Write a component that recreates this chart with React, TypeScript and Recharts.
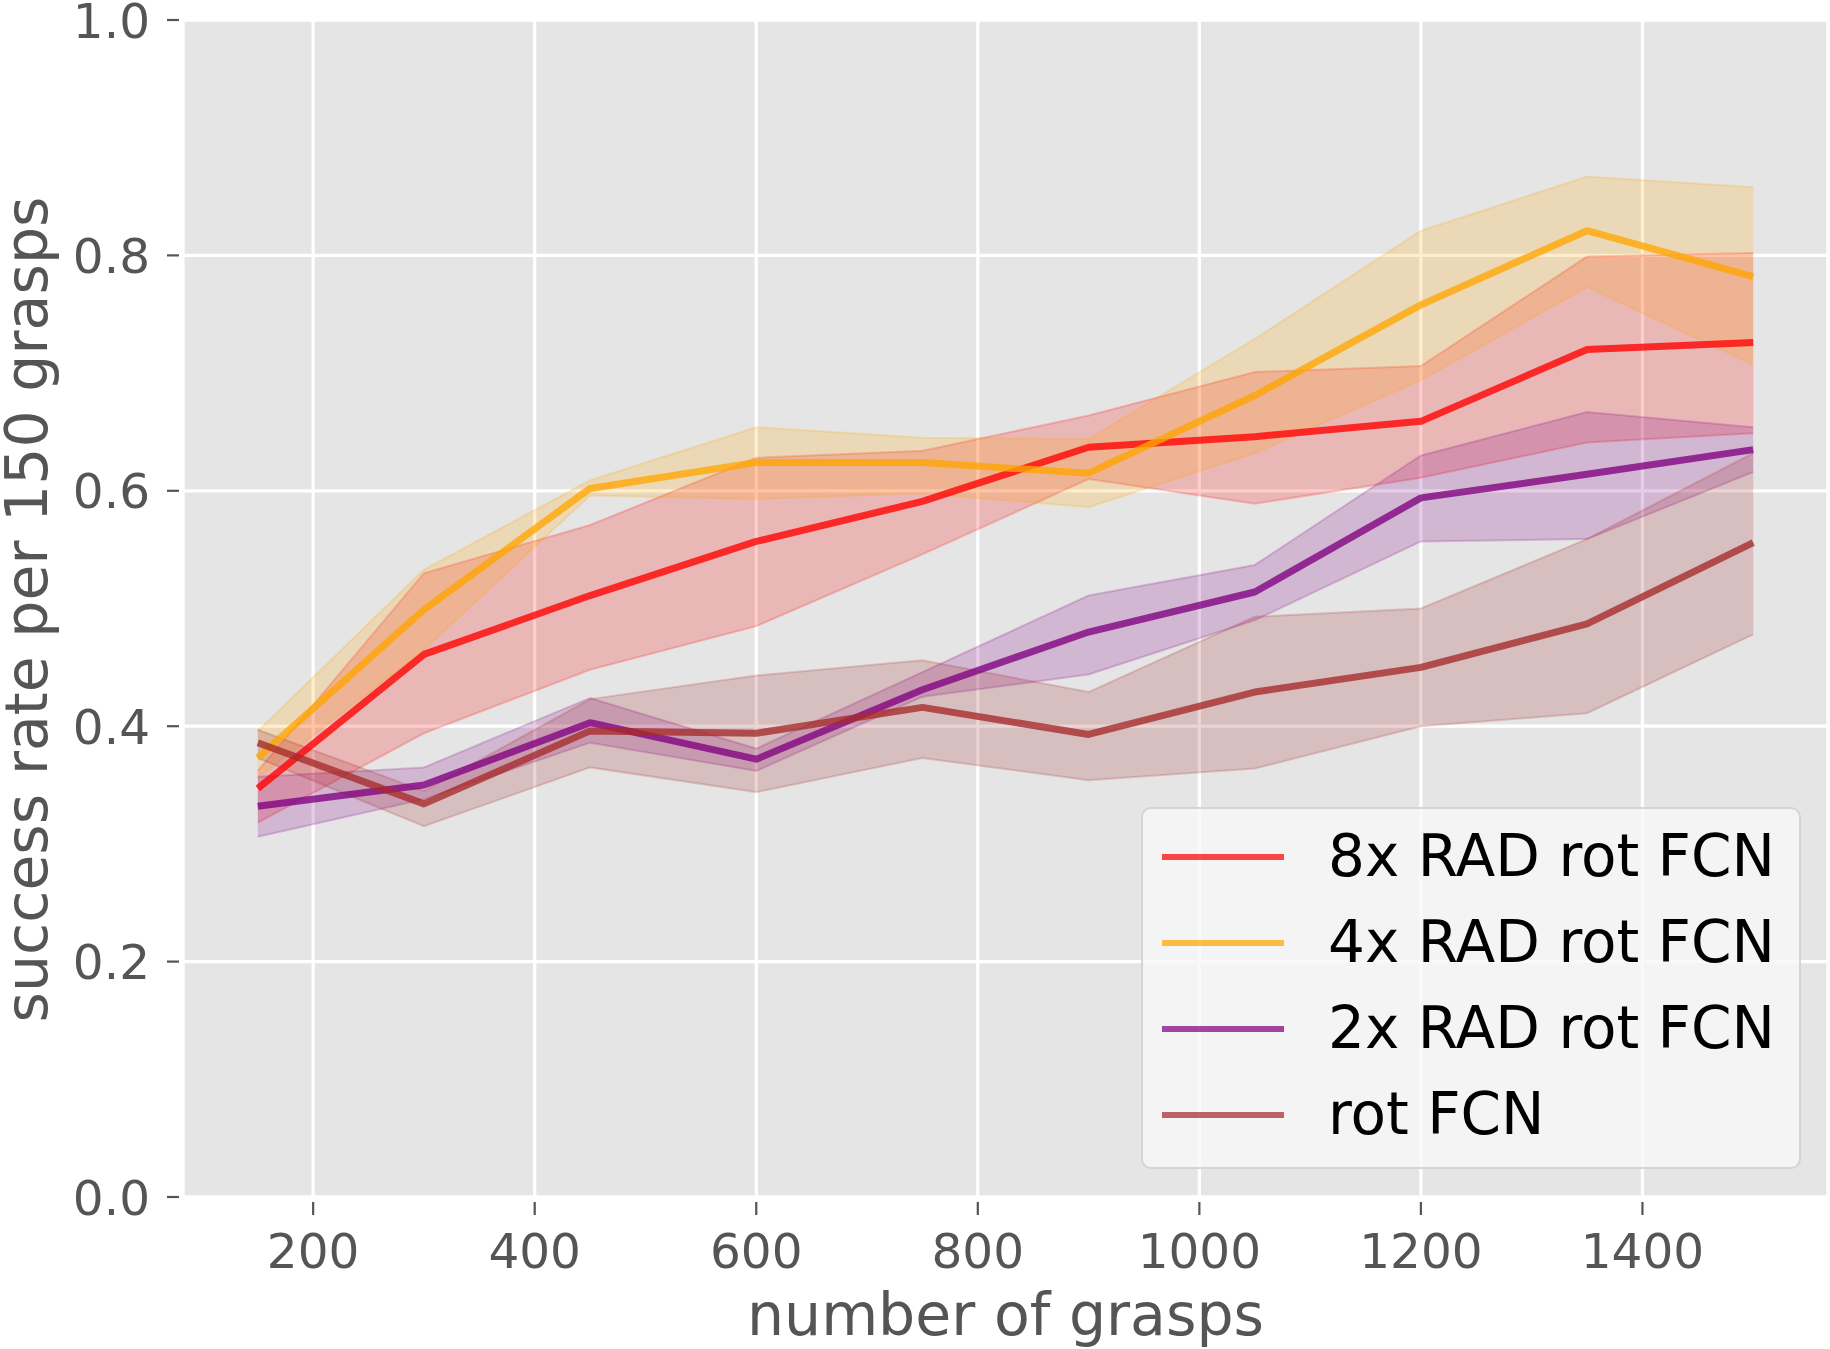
import React from "react";
import {
  ComposedChart,
  Area,
  Line,
  XAxis,
  YAxis,
  CartesianGrid,
  Legend,
} from "recharts";

if (typeof document !== "undefined") document.body.style.margin = "0";

// number of grasps at which each evaluation was run
const grasps = [150, 300, 450, 600, 750, 900, 1050, 1200, 1350, 1500];

// mean success rate and shaded band (low / high) per method
const rad8Mean = [0.347, 0.461, 0.511, 0.557, 0.591, 0.637, 0.646, 0.659, 0.72, 0.726];
const rad8Low = [0.318, 0.394, 0.448, 0.485, 0.546, 0.61, 0.589, 0.611, 0.641, 0.649];
const rad8High = [0.362, 0.53, 0.571, 0.628, 0.634, 0.664, 0.701, 0.706, 0.799, 0.802];

const rad4Mean = [0.373, 0.499, 0.602, 0.624, 0.624, 0.615, 0.681, 0.758, 0.821, 0.782];
const rad4Low = [0.356, 0.465, 0.596, 0.593, 0.598, 0.586, 0.632, 0.694, 0.773, 0.707];
const rad4High = [0.396, 0.533, 0.609, 0.654, 0.645, 0.644, 0.729, 0.821, 0.867, 0.858];

const rad2Mean = [0.332, 0.35, 0.403, 0.372, 0.431, 0.48, 0.514, 0.594, 0.614, 0.635];
const rad2Low = [0.306, 0.338, 0.386, 0.362, 0.425, 0.444, 0.49, 0.557, 0.559, 0.616];
const rad2High = [0.357, 0.365, 0.424, 0.381, 0.446, 0.511, 0.537, 0.63, 0.667, 0.654];

const rotMean = [0.386, 0.334, 0.396, 0.394, 0.416, 0.393, 0.429, 0.45, 0.487, 0.556];
const rotLow = [0.373, 0.315, 0.365, 0.344, 0.373, 0.354, 0.364, 0.4, 0.411, 0.478];
const rotHigh = [0.397, 0.345, 0.423, 0.443, 0.456, 0.429, 0.493, 0.5, 0.559, 0.632];

const xTicks = [200, 400, 600, 800, 1000, 1200, 1400];
const yTicks = [0, 0.2, 0.4, 0.6, 0.8, 1.0];

const series = [
  { key: "rad8", name: "8x RAD rot FCN", color: "#ff0000", mean: rad8Mean, low: rad8Low, high: rad8High },
  { key: "rad4", name: "4x RAD rot FCN", color: "#ffa500", mean: rad4Mean, low: rad4Low, high: rad4High },
  { key: "rad2", name: "2x RAD rot FCN", color: "#800080", mean: rad2Mean, low: rad2Low, high: rad2High },
  { key: "rot", name: "rot FCN", color: "#a52a2a", mean: rotMean, low: rotLow, high: rotHigh },
];

const rows = grasps.map((g, i) => {
  const row: any = { grasps: g };
  series.forEach((s) => {
    row[s.key] = s.mean[i];
    row[s.key + "Band"] = [s.low[i], s.high[i]];
  });
  return row;
});

const FONT = "'DejaVu Sans', Verdana, sans-serif";
const TEXT_GRAY = "#555555";
const TICK_SIZE = 48.5;
const LABEL_SIZE = 58.5;

const XTick = ({ x, y, payload }: any) => (
  <g>
    <line x1={x} x2={x} y1={y + 5} y2={y + 18} stroke={TEXT_GRAY} strokeWidth={2.2} />
    <text x={x} y={y + 71} textAnchor="middle" fontSize={TICK_SIZE} fill={TEXT_GRAY} fontFamily={FONT}>
      {payload.value}
    </text>
  </g>
);

const YTick = ({ x, y, payload }: any) => (
  <g>
    <line x1={x - 16} x2={x - 4} y1={y} y2={y} stroke={TEXT_GRAY} strokeWidth={2.2} />
    <text x={x - 33} y={y + 17.5} textAnchor="end" fontSize={TICK_SIZE} fill={TEXT_GRAY} fontFamily={FONT}>
      {Number(payload.value).toFixed(1)}
    </text>
  </g>
);

const XLabel = ({ viewBox }: any) => (
  <text
    x={viewBox.x + viewBox.width / 2}
    y={viewBox.y + 138}
    textAnchor="middle"
    fontSize={LABEL_SIZE}
    fill={TEXT_GRAY}
    fontFamily={FONT}
  >
    number of grasps
  </text>
);

const YLabel = ({ viewBox }: any) => {
  const cy = viewBox.y + viewBox.height / 2 + 1;
  return (
    <text
      x={47}
      y={cy}
      transform={`rotate(-90, 47, ${cy})`}
      textAnchor="middle"
      fontSize={LABEL_SIZE}
      fill={TEXT_GRAY}
      fontFamily={FONT}
    >
      success rate per 150 grasps
    </text>
  );
};

const LegendBox = () => (
  <div
    style={{
      boxSizing: "border-box",
      width: 660,
      height: 362,
      paddingTop: 5,
      background: "rgba(247,247,247,0.8)",
      border: "2px solid rgba(204,204,204,0.8)",
      borderRadius: 10,
      fontFamily: FONT,
    }}
  >
    {series.map((s) => (
      <div key={s.key} style={{ height: 86, display: "flex", alignItems: "center" }}>
        <div
          style={{
            marginLeft: 19,
            width: 122,
            height: 5.5,
            background: s.color,
            opacity: 0.72,
          }}
        />
        <span style={{ marginLeft: 44, fontSize: 58, color: "#000", lineHeight: 1.16, whiteSpace: "nowrap" }}>
          {s.name}
        </span>
      </div>
    ))}
  </div>
);

export default function App() {
  return (
    <div style={{ width: 1830, height: 1349, background: "#fff" }}>
      <ComposedChart
        width={1830}
        height={1349}
        data={rows}
        margin={{ top: 20, right: 2, bottom: 0, left: 0 }}
      >
        <CartesianGrid fill="#e5e5e5" fillOpacity={1} stroke="#ffffff" strokeWidth={3.3} />
        <XAxis
          dataKey="grasps"
          type="number"
          domain={[82.5, 1567.5]}
          ticks={xTicks}
          interval={0}
          allowDataOverflow
          axisLine={false}
          tickLine={false}
          tickSize={0}
          tickMargin={0}
          height={152}
          tick={<XTick />}
          label={XLabel}
        />
        <YAxis
          type="number"
          domain={[0, 1]}
          ticks={yTicks}
          interval={0}
          allowDataOverflow
          axisLine={false}
          tickLine={false}
          tickSize={0}
          tickMargin={0}
          width={183}
          tick={<YTick />}
          label={YLabel}
        />
        {series.map((s) => (
          <Area
            key={s.key + "Band"}
            dataKey={s.key + "Band"}
            type="linear"
            fill={s.color}
            fillOpacity={0.2}
            stroke={s.color}
            strokeOpacity={0.2}
            strokeWidth={2}
            isAnimationActive={false}
            legendType="none"
          />
        ))}
        {series.map((s) => (
          <Line
            key={s.key}
            dataKey={s.key}
            name={s.name}
            type="linear"
            stroke={s.color}
            strokeOpacity={0.78}
            strokeWidth={7}
            strokeLinejoin="round"
            dot={false}
            activeDot={false}
            isAnimationActive={false}
          />
        ))}
        <Legend
          layout="horizontal"
          verticalAlign="middle"
          align="center"
          content={<LegendBox />}
          wrapperStyle={{ position: "absolute", left: 1141, top: 807, width: 660, height: 362 }}
        />
      </ComposedChart>
    </div>
  );
}
